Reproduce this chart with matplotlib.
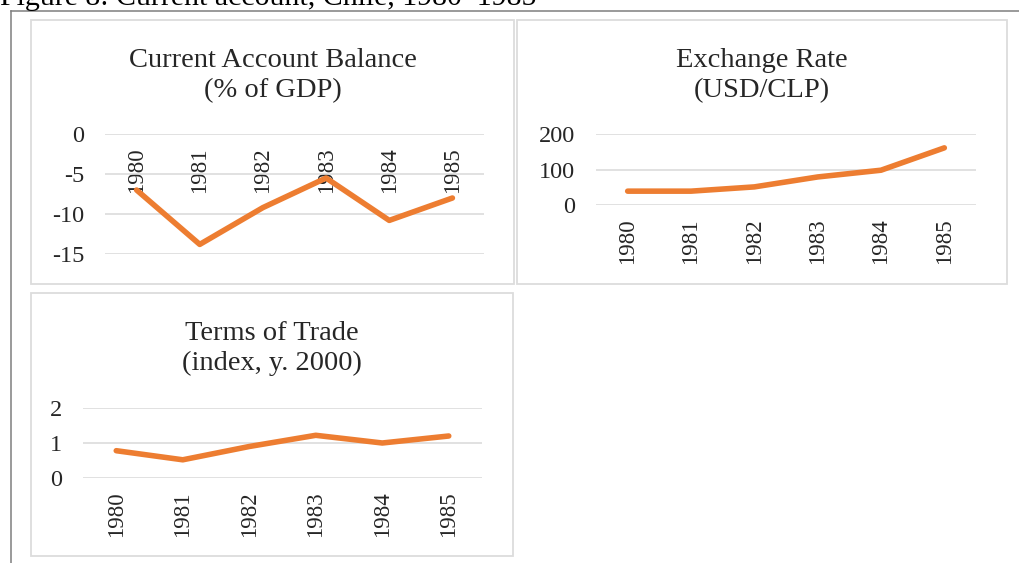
import matplotlib
matplotlib.use("Agg")
import matplotlib.pyplot as plt
from matplotlib.patches import Rectangle
from matplotlib.lines import Line2D

# data
years = ["1980", "1981", "1982", "1983", "1984", "1985"]
current_account = [-7.0, -13.8, -9.2, -5.5, -10.8, -8.0]
exchange_rate = [39, 39, 51, 79, 98, 161]
terms_of_trade = [0.78, 0.52, 0.90, 1.22, 1.00, 1.20]

caption = "Figure 8: Current account, Chile, 1980\u20131985"
titles = [
    ("Current Account Balance", "(% of GDP)"),
    ("Exchange Rate", "(USD/CLP)"),
    ("Terms of Trade", "(index, y. 2000)"),
]

LINE_COLOR = "#ED7D31"
GRID_COLOR = "#D9D9D9"
PANEL_EDGE = "#DCDCDC"
TEXT_COLOR = "#262626"

W, H = 1019, 563
plt.rcParams["font.family"] = ["Liberation Serif", "DejaVu Serif"]
plt.rcParams["axes.unicode_minus"] = False

fig = plt.figure(figsize=(W / 100, H / 100), dpi=100)


def fx(px):
    return px / W


def fy(py):
    # pixel rows are counted from the top
    return 1 - py / H


# outer frame (only top and left visible in the crop)
fig.add_artist(Line2D([fx(10.5), fx(W)], [fy(10.5), fy(10.5)],
                      color="#7F7F7F", lw=1.1, transform=fig.transFigure))
fig.add_artist(Line2D([fx(10.5), fx(10.5)], [fy(10.5), 0],
                      color="#7F7F7F", lw=1.1, transform=fig.transFigure))
fig.text(0, fy(5), caption, ha="left", va="baseline", fontsize=21.5, color="black")

# panel boxes: left, top, right, bottom (pixels)
panels = [(31, 20, 514, 284), (517, 20, 1007, 284), (31, 293, 513, 556)]
# plot areas: left, top, right, bottom (pixels)
plot_areas = [(105, 134, 484, 254), (596, 134, 976, 205), (83, 408, 482, 478)]
series = [current_account, exchange_rate, terms_of_trade]
ylims = [(-15, 0), (0, 200), (0, 2)]
yticks = [[0, -5, -10, -15], [0, 100, 200], [0, 1, 2]]

for (pl, pt, pr, pb), (al, at, ar, ab), vals, ylim, yt, (t1, t2) in zip(
        panels, plot_areas, series, ylims, yticks, titles):
    fig.add_artist(Rectangle((fx(pl), fy(pb)), fx(pr - pl), (pb - pt) / H,
                             transform=fig.transFigure, facecolor="white",
                             edgecolor=PANEL_EDGE, lw=1.3, zorder=0))
    cx = (pl + pr) / 2
    fig.text(fx(cx), fy(pt + 47), t1, ha="center", va="baseline",
             fontsize=20.5, color=TEXT_COLOR)
    fig.text(fx(cx), fy(pt + 77), t2, ha="center", va="baseline",
             fontsize=20.5, color=TEXT_COLOR)

    ax = fig.add_axes([fx(al), fy(ab), fx(ar - al), (ab - at) / H])
    ax.set_facecolor("none")
    x = range(len(years))
    ax.plot(x, vals, color=LINE_COLOR, lw=4, solid_capstyle="round",
            solid_joinstyle="round", zorder=3)
    ax.set_xlim(-0.5, len(years) - 0.5)
    ax.set_ylim(*ylim)
    ax.set_yticks(yt)
    ax.set_xticks(list(x))
    ax.set_xticklabels(years)
    ax.grid(True, axis="y", color=GRID_COLOR, lw=1.1)
    ax.set_axisbelow(True)
    for side in ["top", "right", "left"]:
        ax.spines[side].set_visible(False)
    # category axis crosses at zero
    ax.spines["bottom"].set_position(("data", 0))
    ax.spines["bottom"].set_visible(False)
    ax.tick_params(axis="both", length=0, colors=TEXT_COLOR)
    ax.tick_params(axis="y", pad=15, labelsize=17.5)
    ax.tick_params(axis="x", pad=9.5, labelsize=16.5, labelrotation=90)

fig.savefig("out.png", dpi=100, facecolor="white")
